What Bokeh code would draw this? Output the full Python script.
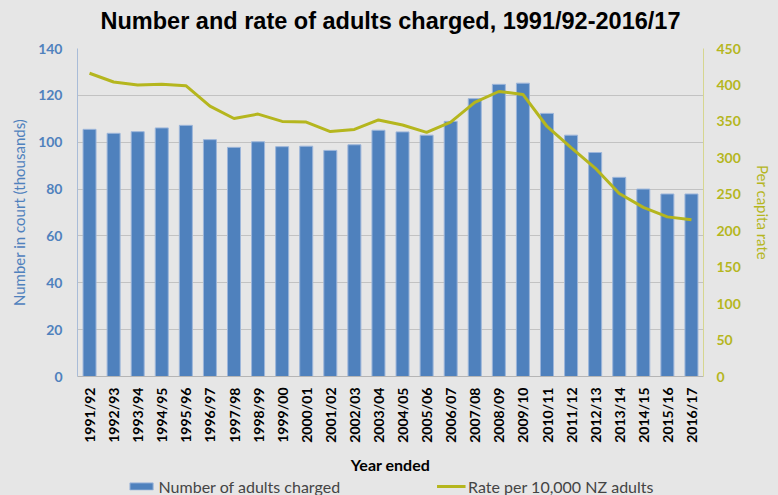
from bokeh.plotting import figure
from bokeh.layouts import column
from bokeh.models import (Range1d, LinearAxis, FixedTicker, Legend, LegendItem,
                          ColumnDataSource, FactorRange, Label)
from bokeh.embed import file_html
from bokeh.resources import INLINE

years = ["1991/92", "1992/93", "1993/94", "1994/95", "1995/96", "1996/97", "1997/98",
         "1998/99", "1999/00", "2000/01", "2001/02", "2002/03", "2003/04", "2004/05",
         "2005/06", "2006/07", "2007/08", "2008/09", "2009/10", "2010/11", "2011/12",
         "2012/13", "2013/14", "2014/15", "2015/16", "2016/17"]
charged = [105.5, 103.8, 104.5, 106.1, 107.2, 101.1, 97.8, 100.2, 98.1, 98.3, 96.5, 98.9,
           105.1, 104.4, 103.0, 108.9, 118.6, 124.7, 125.2, 112.3, 103.0, 95.6, 85.0,
           80.0, 77.9, 77.9]
rate = [416, 404, 400, 401, 399, 371, 354, 360, 350, 349, 336, 339, 352, 345, 335, 349,
        376, 391, 387, 343, 314, 286, 251, 232, 219, 215]
left_ticks = [0, 20, 40, 60, 80, 100, 120, 140]
right_ticks = [0, 50, 100, 150, 200, 250, 300, 350, 400, 450]
series_names = ["Number of adults charged", "Rate per 10,000 NZ adults"]
title_text = "Number and rate of adults charged, 1991/92-2016/17"

BG = "#e6e6e6"
BLUE = "#4f81bd"
BAR_EDGE = "#9db6da"
OLIVE = "#b5b61e"
FONT = "Lato"
W = 778

src = ColumnDataSource(dict(years=years, charged=charged, rate=rate))

# title strip (its frame is aligned with the chart frame by the column layout)
tf = figure(width=W, height=34, output_backend="svg", toolbar_location=None,
            x_range=Range1d(0, 1), y_range=Range1d(0, 1),
            x_axis_type=None, y_axis_type=None, min_border=0,
            background_fill_color=BG, border_fill_color=BG, outline_line_color=None)
tf.xgrid.grid_line_color = None
tf.ygrid.grid_line_color = None
tf.add_layout(Label(x=0.5, y=14, x_units="data", y_units="screen", text=title_text,
                    text_align="center", text_baseline="middle",
                    text_font="Liberation Sans", text_font_size="23.5px",
                    text_font_style="bold", text_color="black"))

# main chart
p = figure(width=W, height=442, x_range=FactorRange(factors=years),
           y_range=Range1d(0, 140), output_backend="svg", toolbar_location=None,
           min_border_left=77, min_border_right=75, min_border_top=14, min_border_bottom=97,
           background_fill_color=BG, border_fill_color=BG, outline_line_color=None)
p.extra_y_ranges = {"rate": Range1d(0, 450)}

bars = p.vbar(x="years", top="charged", width=0.54, source=src,
              fill_color=BLUE, line_color=BAR_EDGE, line_width=1)
line = p.line(x="years", y="rate", source=src, y_range_name="rate",
              line_color=OLIVE, line_width=3)

# grid
p.xgrid.grid_line_color = None
p.ygrid.grid_line_color = "#c2c2c2"
p.ygrid.grid_line_width = 1
p.yaxis.ticker = FixedTicker(ticks=left_ticks)

# left axis
ya = p.yaxis[0]
ya.axis_label = "Number in court (thousands)"
ya.axis_label_text_font = FONT
ya.axis_label_text_font_size = "15px"
ya.axis_label_text_font_style = "normal"
ya.axis_label_text_color = BLUE
ya.axis_label_standoff = 7
ya.major_label_text_font = FONT
ya.major_label_text_font_size = "14px"
ya.major_label_text_font_style = "bold"
ya.major_label_text_color = BLUE
ya.major_label_standoff = 15
ya.axis_line_color = "#a9bcd8"
ya.major_tick_out = 0
ya.major_tick_in = 0
ya.major_tick_line_color = None
ya.minor_tick_line_color = None

# right axis
ra = LinearAxis(y_range_name="rate", ticker=FixedTicker(ticks=right_ticks))
ra.axis_label = "Per capita rate"
ra.axis_label_text_font = FONT
ra.axis_label_text_font_size = "15px"
ra.axis_label_text_font_style = "normal"
ra.axis_label_text_color = OLIVE
ra.axis_label_standoff = 10
ra.major_label_text_font = FONT
ra.major_label_text_font_size = "14px"
ra.major_label_text_font_style = "bold"
ra.major_label_text_color = OLIVE
ra.major_label_standoff = 13
ra.axis_line_color = "#d6d690"
ra.major_tick_out = 0
ra.major_tick_in = 0
ra.major_tick_line_color = None
ra.minor_tick_line_color = None
p.add_layout(ra, "right")

# x axis
xa = p.xaxis[0]
xa.axis_label = "Year ended"
xa.axis_label_text_font = FONT
xa.axis_label_text_font_size = "16px"
xa.axis_label_text_font_style = "bold"
xa.axis_label_text_color = "black"
xa.axis_label_standoff = 9
xa.major_label_orientation = 1.5708
xa.major_label_text_font = FONT
xa.major_label_text_font_size = "14px"
xa.major_label_text_font_style = "bold"
xa.major_label_text_color = "black"
xa.major_label_standoff = 11
xa.axis_line_color = "#b5b5b5"
xa.major_tick_out = 0
xa.major_tick_in = 0
xa.major_tick_line_color = None
xa.minor_tick_line_color = None

# legend strip below the chart
lf = figure(width=W, height=19, output_backend="svg", toolbar_location=None,
            x_range=FactorRange(factors=years), y_range=Range1d(0, 1),
            x_axis_type=None, y_axis_type=None, min_border=0,
            background_fill_color=BG, border_fill_color=BG, outline_line_color=None)
lf.xgrid.grid_line_color = None
lf.ygrid.grid_line_color = None
lb = lf.vbar(x="years", top="charged", width=0.54, source=src,
             fill_color=BLUE, line_color=BAR_EDGE, line_width=1, visible=False)
ll = lf.line(x="years", y="rate", source=src, line_color=OLIVE, line_width=3, visible=False)
legend = Legend(items=[LegendItem(label=series_names[0], renderers=[lb]),
                       LegendItem(label=series_names[1], renderers=[ll])],
                orientation="horizontal", spacing=96, glyph_width=29, glyph_height=9,
                label_text_font=FONT, label_text_font_size="16px", label_standoff=3,
                label_height=17, background_fill_alpha=0, border_line_color=None,
                margin=0, padding=0, location="center")
lf.add_layout(legend, "center")

layout = column(tf, p, lf, spacing=0, styles={"background-color": BG})

html = file_html(layout, INLINE)
html = html.replace("</head>", "<style>body{background:#e6e6e6;}</style></head>", 1)
open("out.html", "w").write(html)
